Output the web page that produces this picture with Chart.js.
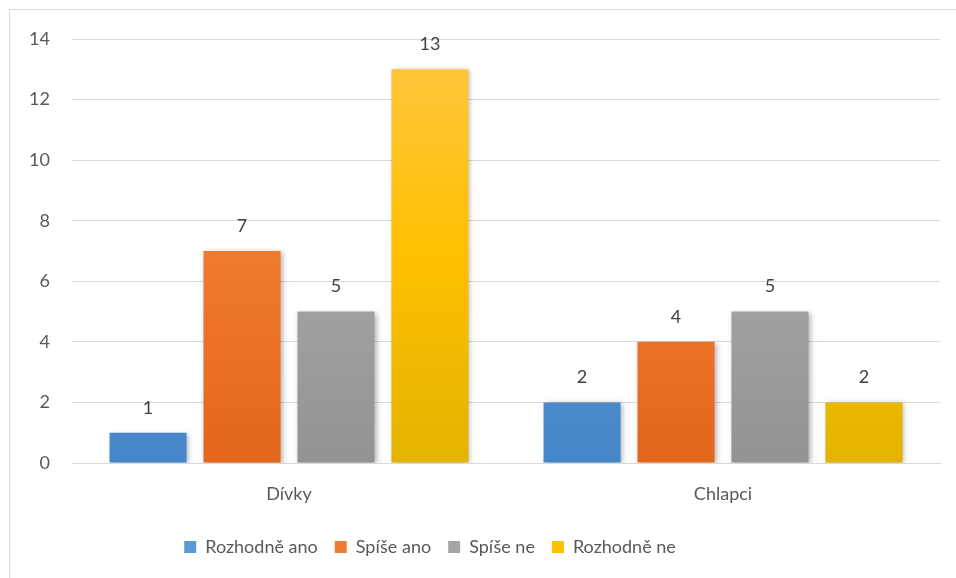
<!DOCTYPE html>
<html><head><meta charset="utf-8">
<script src="https://cdn.jsdelivr.net/npm/chart.js@4"></script>
<style>
html,body{margin:0;padding:0;background:#fff;overflow:hidden}
#wrap{position:absolute;left:0;top:0;width:956px;height:578px}
#frame{position:absolute;left:9px;top:9px;width:960px;height:600px;border:1px solid #d9d9d9;box-sizing:border-box;pointer-events:none}
</style></head>
<body>
<div id="wrap"><canvas id="c" width="956" height="578"></canvas><div id="frame"></div></div>
<script>
const categories = ["Dívky", "Chlapci"];
const seriesNames = ["Rozhodně ano", "Spíše ano", "Spíše ne", "Rozhodně ne"];
const rozhodneAno = [1, 2];
const spiseAno = [7, 4];
const spiseNe = [5, 5];
const rozhodneNe = [13, 2];
const yTicks = [0, 2, 4, 6, 8, 10, 12, 14];

const gradStops = [
  ["#72aade", "#5896d4", "#4586c8"],
  ["#f28d56", "#f07a2e", "#e3661a"],
  ["#b3b3b3", "#a5a5a5", "#939393"],
  ["#ffc746", "#ffc000", "#e3b300"]
];
const solid = ["#5b9bd5", "#ed7d31", "#a5a5a5", "#ffc000"];
const FONT = 'Lato, "Open Sans", sans-serif';

function grad(i){
  return function(ctx){
    const ch = ctx.chart; const a = ch.chartArea;
    if(!a) return solid[i];
    const el = ctx.element;
    let top = a.top, bot = a.bottom;
    if (el && typeof el.y === 'number' && typeof el.base === 'number') { top = el.y; bot = el.base; }
    if (!(bot > top)) return solid[i];
    const g = ch.ctx.createLinearGradient(0, top, 0, bot);
    g.addColorStop(0, gradStops[i][0]);
    g.addColorStop(0.5, gradStops[i][1]);
    g.addColorStop(1, gradStops[i][2]);
    return g;
  };
}

const values = [rozhodneAno, spiseAno, spiseNe, rozhodneNe];
const datasets = seriesNames.map((n, i) => ({
  label: n,
  data: values[i],
  backgroundColor: grad(i),
  borderWidth: 0,
  categoryPercentage: 0.866,
  barPercentage: 0.82
}));

const shadowPlugin = {
  id: 'shadow',
  afterLayout(chart){
    // Legend in the reference sits left of the plot centre
    const lg = chart.legend;
    if (lg) { lg.left = 0; lg.right = 860; lg.width = 860; }
  },
  beforeDatasetsDraw(chart){
    const c = chart.ctx; c.save();
    c.shadowColor = 'rgba(0,0,0,0.28)'; c.shadowBlur = 5; c.shadowOffsetX = 2; c.shadowOffsetY = 1;
  },
  afterDatasetsDraw(chart){
    chart.ctx.restore();
    const c = chart.ctx;
    c.save();
    c.font = '18px ' + FONT;
    c.fillStyle = '#404040';
    c.textAlign = 'center';
    c.textBaseline = 'middle';
    chart.data.datasets.forEach((ds, di) => {
      const meta = chart.getDatasetMeta(di);
      meta.data.forEach((el, idx) => {
        c.fillText(String(ds.data[idx]), el.x, el.y - 25);
      });
    });
    c.restore();
  }
};

new Chart(document.getElementById('c'), {
  type: 'bar',
  data: { labels: categories, datasets },
  options: {
    responsive: false,
    animation: false,
    layout: { padding: { left: 0, right: 16, top: 39, bottom: 12 } },
    scales: {
      x: {
        afterFit(s){ s.height = 58; },
        grid: { display: false },
        border: { display: true, color: '#d9d9d9', width: 1 },
        ticks: { color: '#595959', font: { size: 18, family: FONT }, padding: 12 }
      },
      y: {
        min: 0, max: 14,
        afterBuildTicks(s){ s.ticks = yTicks.map(v => ({ value: v })); },
        afterFit(s){ s.width = 72; },
        grid: { color: '#d9d9d9', lineWidth: 1, drawTicks: false },
        border: { display: false },
        ticks: { color: '#595959', font: { size: 18, family: FONT }, padding: 22 }
      }
    },
    plugins: {
      legend: {
        position: 'bottom',
        labels: {
          color: '#595959',
          font: { size: 18, family: FONT },
          boxWidth: 12, boxHeight: 12, padding: 17,
          generateLabels(chart){
            return chart.data.datasets.map((ds, i) => ({
              text: ds.label, fillStyle: solid[i], strokeStyle: solid[i], lineWidth: 0,
              hidden: false, datasetIndex: i, fontColor: '#595959'
            }));
          }
        }
      },
      tooltip: { enabled: false }
    }
  },
  plugins: [shadowPlugin]
});
</script>
</body></html>
